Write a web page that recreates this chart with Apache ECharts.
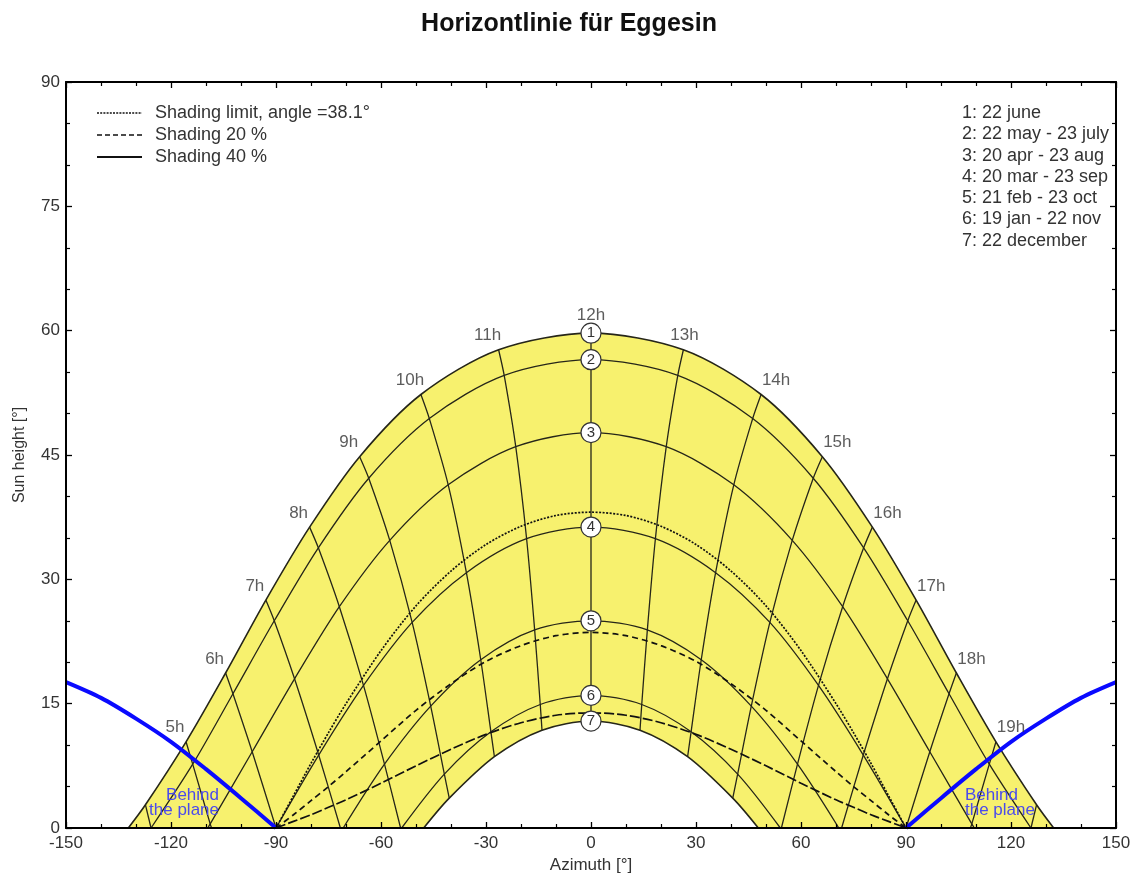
<!DOCTYPE html>
<html>
<head>
<meta charset="utf-8">
<script src="https://cdn.jsdelivr.net/npm/echarts@6/dist/echarts.min.js"></script>
<style>
  html, body { margin: 0; padding: 0; background: #fff; }
  #sunChart { width: 1138px; height: 879px; }
</style>
</head>
<body>
<div id="sunChart"></div>
<script>
// solar hours 4h .. 20h
const hourNames = ['4h', '5h', '6h', '7h', '8h', '9h', '10h', '11h', '12h', '13h', '14h', '15h', '16h', '17h', '18h', '19h', '20h'];
const dateNames = ['1: 22 june', '2: 22 may - 23 july', '3: 20 apr - 23 aug', '4: 20 mar - 23 sep',
  '5: 21 feb - 23 oct', '6: 19 jan - 22 nov', '7: 22 december'];

// sun azimuth / height per date (rows) and hour (columns), null = below horizon
const sunAz = [
  [-127.3, -115.7, -104.4, -92.9, -80.4, -66.1, -48.6, -26.4, 0, 26.4, 48.6, 66.1, 80.4, 92.9, 104.4, 115.7, 127.3],
  [-125.7, -113.8, -102.3, -90.5, -77.9, -63.5, -46.2, -24.8, 0, 24.8, 46.2, 63.5, 77.9, 90.5, 102.3, 113.8, 125.7],
  [null, -108.8, -96.8, -84.7, -71.9, -57.5, -40.8, -21.5, 0, 21.5, 40.8, 57.5, 71.9, 84.7, 96.8, 108.8, null],
  [null, null, -90, -77.8, -65.0, -51.1, -35.6, -18.4, 0, 18.4, 35.6, 51.1, 65.0, 77.8, 90, null, null],
  [null, null, null, null, -59.0, -45.8, -31.5, -16.1, 0, 16.1, 31.5, 45.8, 59.0, null, null, null, null],
  [null, null, null, null, null, -41.9, -28.6, -14.5, 0, 14.5, 28.6, 41.9, null, null, null, null, null],
  [null, null, null, null, null, -40.5, -27.6, -14.0, 0, 14.0, 27.6, 40.5, null, null, null, null, null]
];
const sunH = [
  [2.8, 10.4, 18.7, 27.5, 36.3, 44.8, 52.3, 57.7, 59.7, 57.7, 52.3, 44.8, 36.3, 27.5, 18.7, 10.4, 2.8],
  [0, 7.7, 16.2, 25.0, 33.8, 42.2, 49.4, 54.6, 56.5, 54.6, 49.4, 42.2, 33.8, 25.0, 16.2, 7.7, 0],
  [null, 0.5, 9.2, 18.0, 26.7, 34.7, 41.4, 46.0, 47.7, 46.0, 41.4, 34.7, 26.7, 18.0, 9.2, 0.5, null],
  [null, null, 0, 8.8, 17.2, 24.8, 30.8, 34.9, 36.3, 34.9, 30.8, 24.8, 17.2, 8.8, 0, null, null],
  [null, null, null, null, 7.7, 14.7, 20.3, 23.9, 25.0, 23.9, 20.3, 14.7, 7.7, null, null, null, null],
  [null, null, null, null, null, 6.5, 11.6, 14.9, 16.0, 14.9, 11.6, 6.5, null, null, null, null, null],
  [null, null, null, null, null, 3.6, 8.6, 11.8, 12.9, 11.8, 8.6, 3.6, null, null, null, null, null]
];
// sunrise / sunset azimuth (height 0) when not on a full hour
const riseAz = [-132.2, null, -109.5, null, -70.8, -54.1, -47.8];
const setAz = [132.2, null, 109.5, null, 70.8, 54.1, 47.8];
// where an hour line meets the horizon between two date curves
const hourEndAz = [null, -108.4, null, -71.6, -54.4, null, null, null, null, null, null, null, 54.4, 71.6, null, 108.4, null];

// shading curves (row shading)
const shadeAz = [-90, -85, -80, -75, -70, -60, -50, -40, -30, -20, -10, 0, 10, 20, 30, 40, 50, 60, 70, 75, 80, 85, 90];
const limitH = [0, 3.9, 7.8, 11.5, 15.0, 21.4, 26.8, 31.0, 34.2, 36.4, 37.7, 38.1, 37.7, 36.4, 34.2, 31.0, 26.8, 21.4, 15.0, 11.5, 7.8, 3.9, 0];
const shade20H = [0, 1.6, 3.3, 5.0, 6.8, 10.5, 14.2, 17.4, 20.1, 22.0, 23.2, 23.6, 23.2, 22.0, 20.1, 17.4, 14.2, 10.5, 6.8, 5.0, 3.3, 1.6, 0];
const shade40H = [0, 0.8, 1.6, 2.5, 3.4, 5.4, 7.5, 9.5, 11.3, 12.7, 13.6, 13.9, 13.6, 12.7, 11.3, 9.5, 7.5, 5.4, 3.4, 2.5, 1.6, 0.8, 0];

// behind the plane limit
const behindAzL = [-150, -140, -130, -120, -110, -100, -90];
const behindHL = [17.6, 15.7, 13.2, 10.4, 7.1, 3.6, 0];
const behindAzR = [90, 100, 110, 120, 130, 140, 150];
const behindHR = [0, 3.6, 7.1, 10.4, 13.2, 15.7, 17.6];

const FONT = 'Liberation Sans, Arial, sans-serif';
const lineColor = '#262619';

function datePoints(d) {
  let pts = [];
  if (riseAz[d] != null) pts.push([riseAz[d], 0]);
  sunAz[d].forEach((az, i) => {
    if (az != null) pts.push([az, sunH[d][i]]);
  });
  if (setAz[d] != null) pts.push([setAz[d], 0]);
  return pts;
}

function hourPoints(i) {
  let pts = [];
  for (let d = 0; d < sunAz.length; d++) {
    if (sunAz[d][i] != null) pts.push([sunAz[d][i], sunH[d][i]]);
  }
  if (hourEndAz[i] != null) pts.push([hourEndAz[i], 0]);
  return pts;
}

function zip(a, b) {
  return a.map((v, i) => [v, b[i]]);
}

function plainLine(data, style, extra) {
  return Object.assign({
    type: 'line',
    data: data,
    smooth: 0.3,
    showSymbol: false,
    silent: true,
    lineStyle: style
  }, extra || {});
}

let series = [];
// yellow band between june and december
series.push(plainLine(datePoints(0), { color: lineColor, width: 1.6 }, { areaStyle: { color: '#f7f16e', opacity: 1 } }));
series.push(plainLine(datePoints(6), { color: lineColor, width: 1.6 }, { areaStyle: { color: '#ffffff', opacity: 1 } }));
for (let d = 1; d < 6; d++) {
  series.push(plainLine(datePoints(d), { color: lineColor, width: 1.3 }));
}
for (let i = 0; i < hourNames.length; i++) {
  series.push(plainLine(hourPoints(i), { color: lineColor, width: 1.3 }));
}
series.push(plainLine(zip(shadeAz, limitH), { color: '#111', width: 1.7, type: [2, 1.5] }));
series.push(plainLine(zip(shadeAz, shade20H), { color: '#111', width: 1.7, type: [6, 4] }));
series.push(plainLine(zip(shadeAz, shade40H), { color: '#111', width: 1.7, type: [10, 3] }));
series.push(plainLine(zip(behindAzL, behindHL), { color: '#0a0aff', width: 4 }));
series.push(plainLine(zip(behindAzR, behindHR), { color: '#0a0aff', width: 4 }));

// circled date numbers at noon
series.push({
  type: 'scatter',
  silent: true,
  symbol: 'circle',
  symbolSize: 20,
  itemStyle: { color: '#fff', borderColor: '#333', borderWidth: 1.2, opacity: 1 },
  label: {
    show: true, position: 'inside', color: '#333', fontSize: 15, fontFamily: FONT,
    formatter: p => String(p.dataIndex + 1)
  },
  data: sunH.map(row => [0, row[8]]),
  z: 5
});

// hour labels above the june curve
let hourLabelData = [];
for (let i = 1; i < hourNames.length - 1; i++) {
  let off = i < 8 ? [-11, -14] : (i == 8 ? [0, -18] : (i == 9 ? [1, -14] : [15, -14]));
  hourLabelData.push({
    value: [sunAz[0][i], sunH[0][i]],
    label: { formatter: hourNames[i], offset: off }
  });
}
series.push({
  type: 'scatter',
  silent: true,
  symbolSize: 0,
  label: { show: true, position: 'inside', color: '#333', fontSize: 17, fontFamily: FONT },
  data: hourLabelData,
  z: 4
});

let graphics = [];
const legendY = [113, 135, 157];
const legendText = ['Shading limit, angle =38.1°', 'Shading 20 %', 'Shading 40 %'];
const legendDash = [[2, 1.2], [5, 3], null];
for (let k = 0; k < 3; k++) {
  graphics.push({
    type: 'line',
    z: 100,
    shape: { x1: 97, y1: legendY[k], x2: 142, y2: legendY[k] },
    style: { stroke: '#111', lineWidth: k == 2 ? 2 : 1.6, lineDash: legendDash[k] }
  });
  graphics.push({
    type: 'text',
    z: 100,
    style: { text: legendText[k], x: 155, y: legendY[k], font: '18px ' + FONT, fill: '#333', textVerticalAlign: 'middle' }
  });
}
dateNames.forEach((t, k) => {
  graphics.push({
    type: 'text',
    z: 100,
    style: { text: t, x: 962, y: 113 + k * 21.3, font: '18px ' + FONT, fill: '#333', textVerticalAlign: 'middle' }
  });
});
graphics.push({
  type: 'text',
  z: 100,
  style: { text: 'Behind\nthe plane', x: 219, y: 803, font: '17px ' + FONT, fill: '#4b4bec',
    textAlign: 'right', textVerticalAlign: 'middle', lineHeight: 15 }
});
graphics.push({
  type: 'text',
  z: 100,
  style: { text: 'Behind\nthe plane', x: 965, y: 803, font: '17px ' + FONT, fill: '#4b4bec',
    textAlign: 'left', textVerticalAlign: 'middle', lineHeight: 15 }
});

const tickCommon = {
  axisLine: { show: true, onZero: false, lineStyle: { color: '#000', width: 2 } },
  axisTick: { show: true, inside: true, length: 6, lineStyle: { color: '#000', width: 1.3 } },
  minorTick: { show: true, splitNumber: 3, length: 4, lineStyle: { color: '#000', width: 1.2 } },
  splitLine: { show: false },
  minorSplitLine: { show: false },
  z: 10
};

const chart = echarts.init(document.getElementById('sunChart'));
chart.setOption({
  backgroundColor: '#fff',
  animation: false,
  title: {
    text: 'Horizontlinie für Eggesin',
    left: 'center',
    top: 7,
    textStyle: { fontSize: 25, fontWeight: 'bold', color: '#111', fontFamily: FONT }
  },
  grid: { left: 66, right: 22, top: 82, bottom: 49 },
  xAxis: [
    Object.assign({
      type: 'value', min: -150, max: 150, interval: 30, position: 'bottom',
      name: 'Azimuth [°]', nameLocation: 'middle', nameGap: 29,
      nameTextStyle: { fontSize: 17, color: '#333', fontFamily: FONT },
      axisLabel: { fontSize: 17, color: '#333', margin: 7, fontFamily: FONT }
    }, tickCommon),
    Object.assign({
      type: 'value', min: -150, max: 150, interval: 30, position: 'top',
      axisLabel: { show: false }
    }, tickCommon)
  ],
  yAxis: [
    Object.assign({
      type: 'value', min: 0, max: 90, interval: 15, position: 'left',
      name: 'Sun height [°]', nameLocation: 'middle', nameGap: 38,
      nameTextStyle: { fontSize: 16, color: '#333', fontFamily: FONT },
      axisLabel: { fontSize: 17, color: '#333', margin: 6, fontFamily: FONT }
    }, tickCommon),
    Object.assign({
      type: 'value', min: 0, max: 90, interval: 15, position: 'right',
      axisLabel: { show: false }
    }, tickCommon)
  ],
  graphic: graphics,
  series: series
});
</script>
</body>
</html>
